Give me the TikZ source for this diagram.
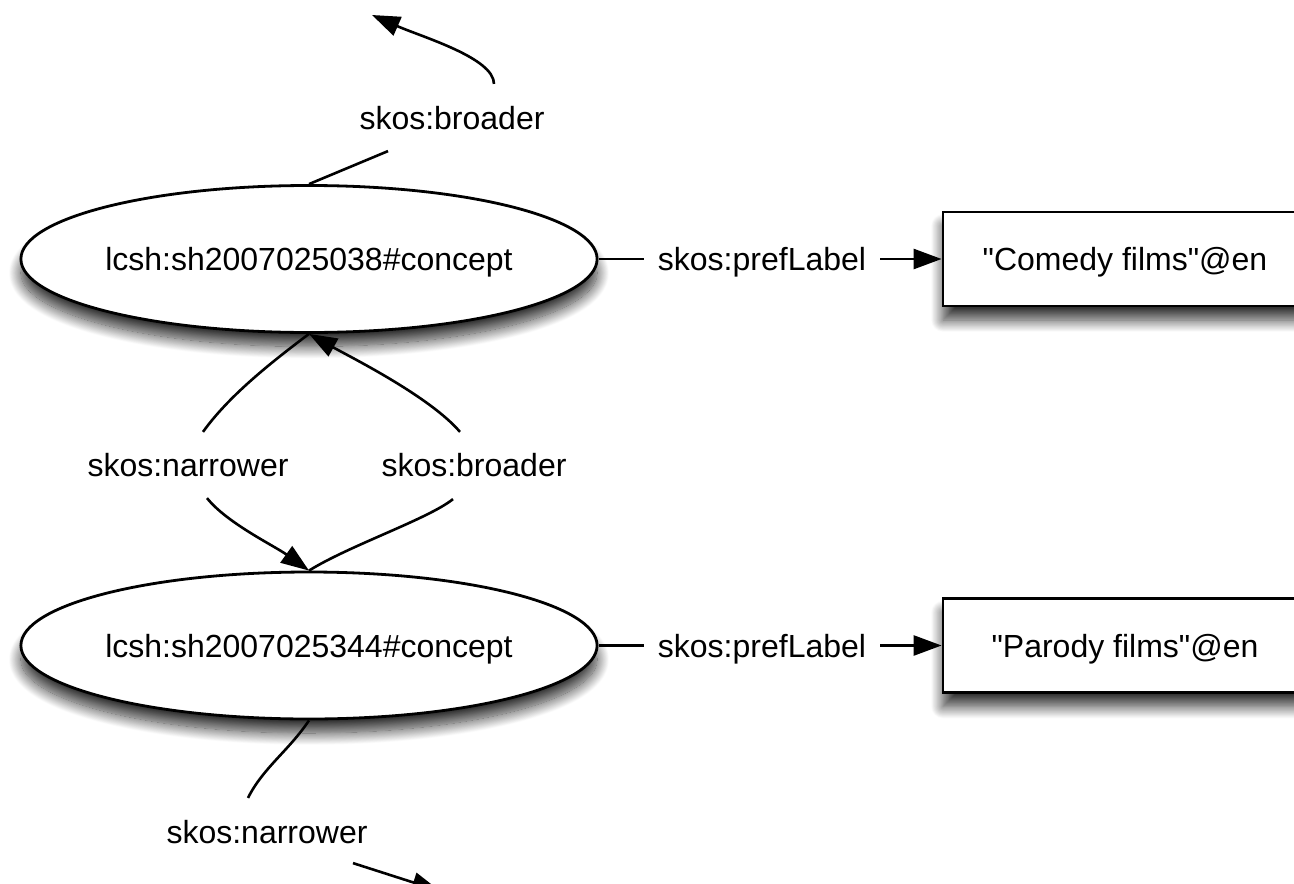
\documentclass[tikz,border=0pt]{standalone}
\usepackage{fontspec}
\setmainfont{Liberation Sans}
\usetikzlibrary{shapes.geometric, arrows.meta, shadows.blur}
\tikzset{
    concept/.style={ellipse, draw, line width=1.4pt, fill=white, inner sep=0pt, minimum width=284pt, minimum height=73.5pt, text height=11.7pt, text depth=0pt, blur shadow={shadow xshift=0pt, shadow yshift=-7pt, shadow blur radius=6pt, shadow blur steps=20, shadow opacity=80}},
    literal/.style={rectangle, draw, line width=1.4pt, fill=white, inner sep=0pt, minimum width=182pt, minimum height=47pt, text height=11.7pt, text depth=0pt, blur shadow={shadow xshift=0pt, shadow yshift=-7pt, shadow blur radius=6pt, shadow blur steps=20, shadow opacity=80}},
    prop/.style={inner sep=7pt, text height=11.7pt, text depth=0pt},
    rel/.style={line width=1.3pt},
    arr/.style={rel, -{Triangle[length=14pt, width=10pt]}},
}

\begin{document}
\begin{tikzpicture}[x=0.5pt, y=-0.5pt, font=\fontsize{16}{19}\selectfont]
            \useasboundingbox (0,0) rectangle (1294,883);
            \clip (0,0) rectangle (1294,883);
            \node[concept] (e1) at (309,259) {lcsh:sh2007025038\#concept};
            \node[concept] (e2) at (309,645.5) {lcsh:sh2007025344\#concept};
            \node[literal] (b1) at (1125,259) {\textquotedbl Comedy films\textquotedbl @en};
            \node[literal] (b2) at (1125,645.5) {\textquotedbl Parody films\textquotedbl @en};
            \node[prop] (pl1) at (762,259) {skos:prefLabel};
            \node[prop] (pl2) at (762,645.5) {skos:prefLabel};
            \node[prop] (bt) at (452,118) {skos:broader};
            \node[prop] (nw1) at (188,465) {skos:narrower};
            \node[prop] (bb) at (474,465) {skos:broader};
            \node[prop] (nw2) at (267,832) {skos:narrower};
            \coordinate (up) at (372,15);
            \coordinate (down) at (440,891);
            \draw[rel](e1)--(pl1);
            \draw[arr](pl1)--(b1);
            \draw[rel](e2)--(pl2);
            \draw[arr](pl2)--(b2);
            \draw[rel](e1.north)--([shift={(-64,7)}]bt.south);
            \draw[arr]([shift={(42,-8)}]bt.north) .. controls +(0,-26) and +(50,22) .. (up);
            \draw[rel](e1.south) .. controls +(-40,30) and +(25,-35) .. ([shift={(15,-7)}]nw1.north);
            \draw[arr]([shift={(19,7)}]nw1.south) .. controls +(20,25) and +(-35,-25) .. (e2.north);
            \draw[rel](e2.north) .. controls +(40,-25) and +(-25,20) .. ([shift={(-21,8)}]bb.south);
            \draw[arr]([shift={(-14,-7)}]bb.north) .. controls +(-30,-35) and +(45,25) .. (e1.south);
            \draw[rel](e2.south) .. controls +(-20,30) and +(15,-30) .. ([shift={(-19,-8)}]nw2.north);
            \draw[arr]([shift={(86,5)}]nw2.south)--(down);
        \end{tikzpicture}
\end{document}
